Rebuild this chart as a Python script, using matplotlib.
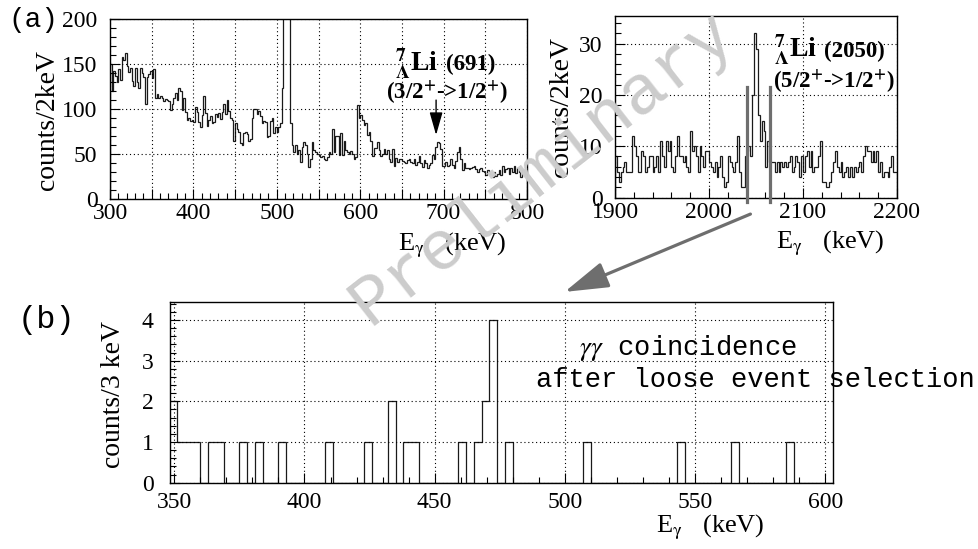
import matplotlib
matplotlib.use('Agg')
import matplotlib.pyplot as plt
import numpy as np
from matplotlib.ticker import MultipleLocator, FuncFormatter
from matplotlib.patches import FancyArrowPatch

plt.rcParams['font.family'] = 'Liberation Serif'
plt.rcParams['mathtext.fontset'] = 'stix'

# singles spectrum, 300-800 keV, 2 keV/bin
low_edges = np.arange(300, 802, 2)
low_counts = [
    150, 120, 142, 137, 130, 145, 132, 158, 155, 162,
    148, 141, 146, 131, 126, 146, 130, 123, 146, 140,
    136, 106, 136, 139, 142, 134, 145, 112, 117, 112,
    114, 112, 109, 111, 110, 109, 99, 106, 112, 118,
    110, 123, 120, 99, 112, 97, 88, 90, 87, 88,
    86, 102, 97, 86, 80, 93, 115, 96, 81, 88,
    92, 84, 86, 95, 91, 96, 89, 97, 106, 95,
    110, 98, 90, 88, 65, 84, 78, 75, 62, 60,
    73, 75, 72, 65, 67, 90, 100, 100, 95, 98,
    92, 84, 87, 86, 69, 70, 87, 90, 73, 80,
    74, 80, 84, 123, 330, 520, 470, 260, 84, 60,
    52, 60, 50, 55, 41, 58, 63, 60, 50, 36,
    45, 63, 55, 52, 50, 49, 47, 48, 45, 43,
    47, 52, 50, 78, 52, 70, 70, 49, 73, 49,
    65, 55, 52, 50, 53, 50, 45, 47, 104, 90,
    93, 88, 82, 85, 71, 75, 64, 48, 57, 57,
    63, 55, 48, 50, 56, 50, 55, 45, 41, 56,
    37, 46, 41, 44, 45, 42, 41, 40, 43, 44,
    41, 40, 45, 38, 41, 48, 40, 36, 43, 40,
    34, 38, 40, 49, 45, 58, 63, 62, 56, 37,
    37, 41, 37, 38, 45, 38, 35, 42, 52, 58,
    45, 32, 40, 35, 35, 33, 34, 36, 37, 33,
    30, 33, 35, 31, 30, 27, 32, 30, 28, 25,
    30, 26, 28, 32, 27, 37, 30, 33, 35, 28,
    34, 30, 37, 29, 35, 30, 25, 32, 30, 28,
]

# singles spectrum, 1900-2200 keV, 2 keV/bin
high_edges = np.arange(1900, 2202, 2)
high_counts = [
    8, 5, 3, 5, 6, 7, 5, 5, 5, 12,
    10, 8, 5, 5, 9, 8, 5, 6, 8, 8,
    5, 6, 8, 5, 11, 8, 6, 11, 9, 11,
    6, 5, 8, 12, 8, 8, 7, 8, 6, 5,
    13, 9, 10, 8, 5, 10, 8, 6, 9, 9,
    7, 6, 5, 7, 4, 6, 8, 4, 2, 3,
    8, 7, 6, 5, 7, 12, 5, 2, 2, 8,
    9, 10, 8, 20, 32, 29, 16, 11, 15, 13,
    6, 11, 7, 7, 7, 5, 7, 5, 7, 6,
    7, 6, 7, 8, 5, 6, 8, 7, 4, 8,
    5, 8, 9, 6, 9, 5, 6, 6, 8, 11,
    3, 3, 2, 2, 3, 5, 7, 9, 6, 5,
    7, 4, 5, 6, 4, 6, 4, 6, 5, 6,
    7, 5, 8, 10, 9, 9, 7, 9, 7, 9,
    5, 7, 4, 5, 5, 4, 6, 8, 5, 5,
]

# gate on the 2050 keV line
gate = [2040.5, 2064.5]

# gamma-gamma coincidence, 3 keV/bin from 348 keV
coin_edges = np.arange(348, 604, 3)
coin_counts = [
    2, 1, 1, 1, 0, 1, 1, 0, 0, 1,
    0, 1, 0, 0, 1, 0, 0, 0, 0, 0,
    1, 0, 0, 0, 0, 1, 0, 0, 2, 0,
    1, 1, 0, 0, 0, 0, 0, 1, 0, 1,
    2, 4, 0, 1, 0, 0, 0, 0, 0, 0,
    0, 0, 0, 1, 0, 0, 0, 0, 0, 0,
    0, 0, 0, 0, 0, 1, 0, 0, 0, 0,
    0, 0, 1, 0, 0, 0, 0, 0, 0, 1,
    0, 0, 0, 0, 0,
]

W, H = 979, 549
fig = plt.figure(figsize=(W / 100, H / 100), dpi=100)


def box(x0, y0, x1, y1):
    return [x0 / W, 1 - y1 / H, (x1 - x0) / W, (y1 - y0) / H]


def fpos(x, y):
    return x / W, 1 - y / H


def style(ax, xmaj, xmin, ymaj, ymin, xlab_step=None):
    ax.xaxis.set_major_locator(MultipleLocator(xmaj))
    ax.xaxis.set_minor_locator(MultipleLocator(xmin))
    ax.yaxis.set_major_locator(MultipleLocator(ymaj))
    ax.yaxis.set_minor_locator(MultipleLocator(ymin))
    if xlab_step:
        ax.xaxis.set_major_formatter(
            FuncFormatter(lambda v, p: f'{v:.0f}' if abs(v % xlab_step) < 1e-6 else ''))
    ax.tick_params(which='both', direction='in', top=False, right=False,
                   width=0.8, labelsize=17)
    ax.tick_params(which='major', length=7)
    ax.tick_params(which='minor', length=4)
    ax.tick_params(axis='y', pad=9)
    ax.tick_params(axis='x', pad=3)
    ax.grid(True, which='major', color='black', lw=0.8, linestyle=(0, (1, 2.5)))
    for s in ax.spines.values():
        s.set_linewidth(1.0)


# (a) left
ax1 = fig.add_axes(box(110, 19, 527, 199))
ax1.stairs(low_counts, low_edges, baseline=0, color='#1a1a1a', lw=0.9)
ax1.set_xlim(300, 800)
ax1.set_ylim(0, 200)
style(ax1, 50, 10, 50, 10, xlab_step=100)
ax1.annotate('', xy=(691, 68), xytext=(691, 113),
             arrowprops=dict(arrowstyle='-|>,head_length=0.7,head_width=0.2',
                             color='black', lw=1.0, mutation_scale=20))

# (a) right
ax2 = fig.add_axes(box(615, 16, 897, 197.5))
ax2.stairs(high_counts, high_edges, baseline=0, color='#1a1a1a', lw=0.9)
ax2.set_xlim(1900, 2200)
ax2.set_ylim(0, 35.4)
style(ax2, 100, 20, 10, 2)
for g in gate:
    ax2.plot([g, g], [-0.9, 21.6], color='#6e6e6e', lw=2.3, clip_on=False, zorder=5)

# (b)
ax3 = fig.add_axes(box(170.4, 301.7, 833, 482.7))
ax3.stairs(coin_counts, coin_edges, baseline=0, color='#1a1a1a', lw=0.9)
ax3.set_xlim(348.5, 603)
ax3.set_ylim(0, 4.45)
style(ax3, 50, 10, 1, 0.2)
ax3.tick_params(axis='x', pad=7)
ax3.tick_params(axis='y', pad=12)

# axis titles
fig.text(*fpos(48, 120), 'counts/2keV', rotation=90, fontsize=20,
         ha='center', va='center')
fig.text(*fpos(562, 107), 'counts/2keV', rotation=90, fontsize=20,
         ha='center', va='center')
fig.text(*fpos(114, 394), 'counts/3 keV', rotation=90, fontsize=20,
         ha='center', va='center')
xlab = r'E$_{\mathrm{\gamma}}$   (keV)'
fig.text(*fpos(452, 245), xlab, fontsize=19, ha='center', va='center')
fig.text(*fpos(830, 243), xlab, fontsize=19, ha='center', va='center')
fig.text(*fpos(710, 527), xlab, fontsize=19, ha='center', va='center')

# panel tags
fig.text(*fpos(33, 20), '(a)', family='Liberation Mono', fontsize=20,
         ha='center', va='center')
fig.text(*fpos(47, 320), '(b)', family='Liberation Mono', fontsize=23,
         ha='center', va='center')

# level labels
fig.text(*fpos(395, 72), r'$^{\mathbf{7}}_{\mathbf{\Lambda}}$Li', fontsize=20,
         fontweight='bold', ha='left', va='baseline')
fig.text(*fpos(446, 70), '(691)', fontsize=16.5, fontweight='bold',
         ha='left', va='baseline')
fig.text(*fpos(447, 92), r'(3/2$^{\mathbf{+}}$->1/2$^{\mathbf{+}}$)', fontsize=16.5,
         fontweight='bold', ha='center', va='center')

fig.text(*fpos(774, 58), r'$^{\mathbf{7}}_{\mathbf{\Lambda}}$Li', fontsize=20,
         fontweight='bold', ha='left', va='baseline')
fig.text(*fpos(824, 57), '(2050)', fontsize=16.5, fontweight='bold',
         ha='left', va='baseline')
fig.text(*fpos(834, 81), r'(5/2$^{\mathbf{+}}$->1/2$^{\mathbf{+}}$)', fontsize=16.5,
         fontweight='bold', ha='center', va='center')

# coincidence note
fig.text(*fpos(688, 348), r'$\gamma\gamma$ coincidence', family='Liberation Mono',
         fontsize=19.5, ha='center', va='center')
fig.text(*fpos(755, 380), 'after loose event selection', family='Liberation Mono',
         fontsize=19.5, ha='center', va='center')

# arrow from the gated peak down to the coincidence spectrum
arr = FancyArrowPatch(fpos(753, 213), fpos(562, 293), transform=fig.transFigure,
                      arrowstyle='-|>,head_length=1.5,head_width=0.45',
                      mutation_scale=18, color='#6e6e6e', lw=2.3)
fig.add_artist(arr)

fig.text(*fpos(542, 168), 'Preliminary', rotation=38, family='Liberation Mono',
         fontsize=51, color='#cccccc', ha='center', va='center', zorder=10)

fig.savefig('out.png', dpi=100, facecolor='white')
